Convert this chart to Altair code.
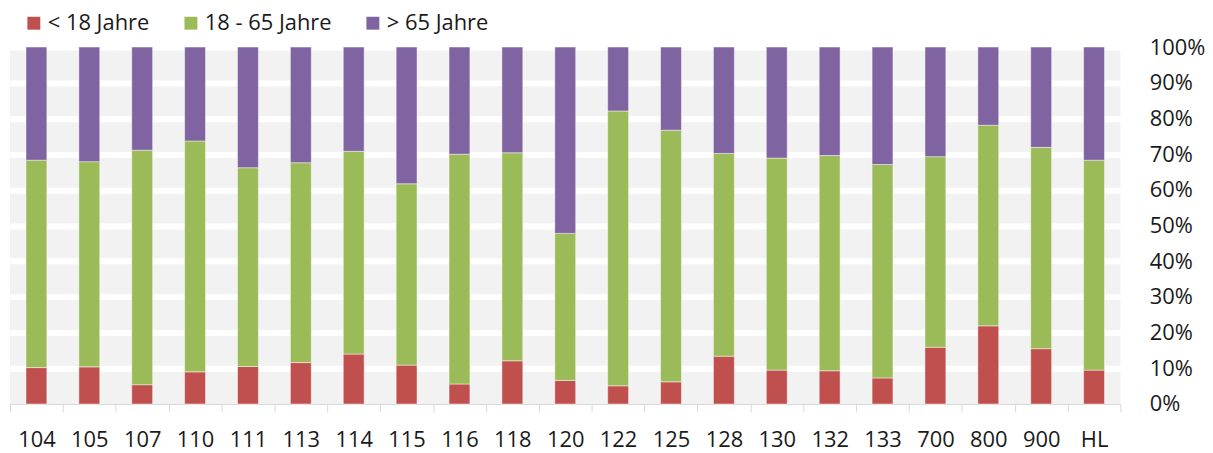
import altair as alt
import pandas as pd

categories = ["104", "105", "107", "110", "111", "113", "114", "115", "116", "118",
              "120", "122", "125", "128", "130", "132", "133", "700", "800", "900", "HL"]
groups = ["< 18 Jahre", "18 - 65 Jahre", "> 65 Jahre"]
colors = ["#C0504D", "#9BBB59", "#8064A2"]

under_18 = [10.2, 10.4, 5.4, 9.0, 10.5, 11.6, 14.0, 10.9, 5.6, 12.1,
            6.6, 5.1, 6.2, 13.4, 9.5, 9.3, 7.3, 15.9, 21.9, 15.5, 9.5]
age_18_65 = [58.1, 57.5, 65.7, 64.7, 55.7, 56.0, 56.8, 50.8, 64.4, 58.3,
             41.2, 77.0, 70.5, 56.8, 59.4, 60.3, 59.8, 53.4, 56.2, 56.4, 58.8]
over_65 = [31.7, 32.1, 28.9, 26.3, 33.8, 32.4, 29.2, 38.3, 30.0, 29.6,
           52.2, 17.9, 23.3, 29.8, 31.1, 30.4, 32.9, 30.7, 21.9, 28.1, 31.7]

rows = []
for series_idx, (g, vals) in enumerate(zip(groups, [under_18, age_18_65, over_65])):
    for c, v in zip(categories, vals):
        rows.append({"Bezirk": c, "Gruppe": g, "Anteil": v, "order": series_idx})
df = pd.DataFrame(rows)

tick_values = [i / 10 for i in range(11)]

chart = alt.Chart(df).mark_bar(
    size=21, stroke="white", strokeOpacity=0.45, strokeWidth=1
).encode(
    x=alt.X("Bezirk:N", sort=categories, title=None,
            scale=alt.Scale(paddingInner=0, paddingOuter=0),
            axis=alt.Axis(labelAngle=0, tickBand="extent", tickSize=8,
                          tickColor="#D9D9D9", domainColor="#D9D9D9",
                          labelPadding=18, labelFontSize=22, labelColor="#1a1a1a",
                          grid=False)),
    y=alt.Y("Anteil:Q", stack="normalize", title=None,
            scale=alt.Scale(domain=[0, 1], nice=False),
            axis=alt.Axis(orient="right", format="%", values=tick_values,
                          domain=False, ticks=False, labelPadding=29,
                          labelFontSize=22, labelColor="#1a1a1a", labelAlign="left",
                          grid=True, gridColor="white", gridWidth=6,
                          gridOpacity={"condition": {"test": "datum.value === 0", "value": 0}, "value": 1})),
    color=alt.Color("Gruppe:N", sort=groups,
                    scale=alt.Scale(domain=groups, range=colors),
                    legend=alt.Legend(title=None, orient="none", direction="horizontal",
                                      legendX=13, legendY=-35, symbolType="square",
                                      symbolSize=169, symbolStrokeWidth=0,
                                      labelFontSize=22, labelColor="#1a1a1a",
                                      columnPadding=30, labelOffset=3, padding=0)),
    order=alt.Order("order:Q", sort="ascending"),
).properties(
    width=1117, height=359,
    padding={"left": 2, "top": 38, "right": 85, "bottom": 48},
    autosize="none",
).configure(
    font="Open Sans"
).configure_view(
    fill="#F2F2F2", stroke=None
)

chart.save("out.html", embed_options={"renderer": "svg", "actions": False})
